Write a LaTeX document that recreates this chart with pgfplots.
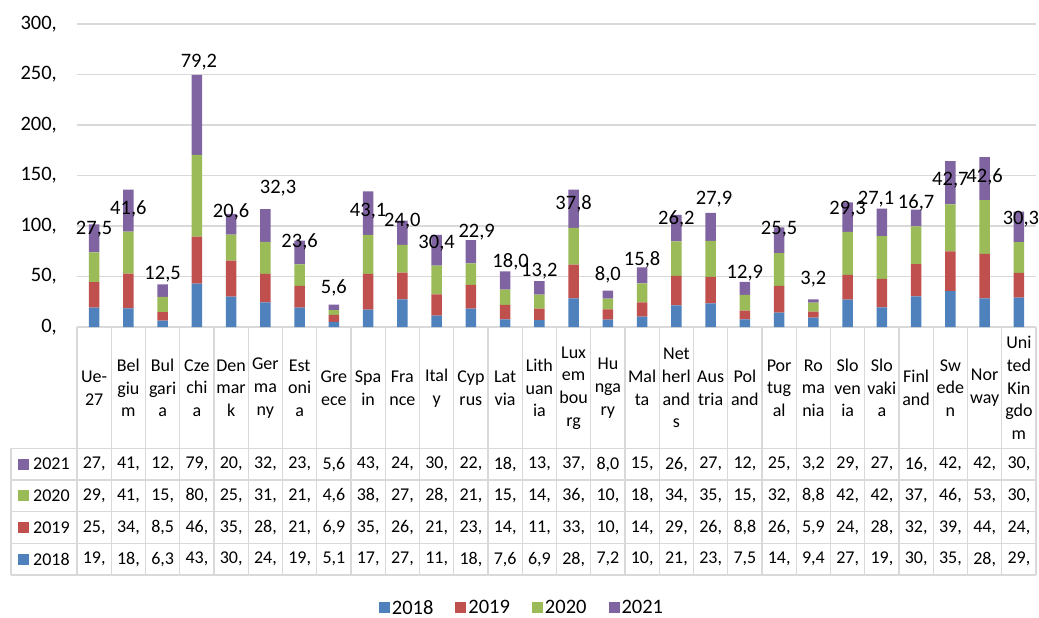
\documentclass[border=0pt]{standalone}
\usepackage{fontspec}
\setmainfont{Carlito}
\usepackage{pgfplots}
\usepackage{pgfplotstable}
\pgfplotsset{compat=1.18}
\pgfkeys{/pgf/number format/assume math mode=true}

\definecolor{c18}{HTML}{4F81BD}
\definecolor{c19}{HTML}{C0504D}
\definecolor{c20}{HTML}{9BBB59}
\definecolor{c21}{HTML}{8064A2}
\definecolor{gridc}{HTML}{D9D9D9}

% values per year; lx/ly = where the 2021 label sits
\pgfplotstableread{
x  y18  y19  y20  y21  lx    ly
0  19.3 25.1 29.6 27.5 0     96.7
1  18.4 34.4 41.7 41.6 1     116.8
2  6.3  8.5  15.0 12.5 2     52.5
3  43.0 46.6 80.8 79.2 3.06  262.7
4  30.0 35.7 25.7 20.6 4     113.9
5  24.5 28.0 31.8 32.3 5.37  137.3
6  19.2 21.5 21.3 23.6 6     84.2
7  5.1  6.9  4.6  5.6  7     38.3
8  17.3 35.3 38.5 43.1 8     115.1
9  27.3 26.5 27.6 24.0 9     104.3
10 11.2 21.0 28.5 30.4 10    82.9
11 18.3 23.3 21.5 22.9 11.17 93.8
12 7.6  14.3 15.2 18.0 12.16 64.1
13 6.9  11.2 14.0 13.2 13    54.8
14 28.3 33.4 36.5 37.8 14    122.1
15 7.2  10.3 10.5 8.0  15    51.5
16 10.2 14.2 18.8 15.8 16    67.0
17 21.3 29.2 34.3 26.2 17    106.9
18 23.4 26.3 35.5 27.9 18.1  126.7
19 7.5  8.8  15.4 12.9 19    53.8
20 14.3 26.4 32.5 25.5 20    97.0
21 9.4  5.9  8.8  3.2  21    47.2
22 27.2 24.4 42.6 29.3 22    116.8
23 19.5 28.1 42.5 27.1 22.83 127.0
24 30.2 32.0 37.4 16.7 24    123.1
25 35.5 39.5 46.5 42.7 25    145.5
26 28.3 44.0 53.4 42.6 26    148.8
27 29.0 24.5 30.5 30.3 27.06 106.9
}\data

\newcommand{\bigf}{\fontsize{20.5}{24}\selectfont}
\newcommand{\tabf}{\fontsize{18}{22.7}\selectfont}

\begin{document}
\begin{tikzpicture}
\path[use as bounding box] (-77pt,-291pt) rectangle (962pt,327pt);

\begin{axis}[
    scale only axis,
    width=959pt, height=303pt,
    at={(0pt,0pt)}, anchor=south west,
    xmin=-0.5, xmax=27.5,
    ymin=0, ymax=300,
    ybar stacked,
    bar width=10.5pt,
    axis line style={draw=none},
    xtick=\empty,
    ytick={0,50,...,300},
    tick style={draw=none},
    ymajorgrids,
    major grid style={gridc, line width=1.3pt},
    yticklabel={\pgfmathtruncatemacro{\tv}{\tick}\tv,},
    yticklabel style={anchor=east, inner sep=0pt, xshift=-20pt},
    tick label style={font=\bigf},
    clip=false,
    legend columns=4,
    legend image code/.code={\fill[#1,draw=none] (0pt,-5.5pt) rectangle (11pt,5.5pt);},
    legend style={draw=none, fill=none, at={(0.464,-0.927)}, anchor=center,
        font=\bigf, /tikz/every even column/.append style={column sep=20pt}},
]
\addplot[fill=c18, draw=none] table[x=x, y=y18] {\data};
\addplot[fill=c19, draw=none] table[x=x, y=y19] {\data};
\addplot[fill=c20, draw=none] table[x=x, y=y20] {\data};
\addplot[fill=c21, draw=none] table[x=x, y=y21] {\data};
\legend{2018,2019,2020,2021}
\end{axis}

% labels with the 2021 value, unstacked overlay
\begin{axis}[
    scale only axis,
    width=959pt, height=303pt,
    at={(0pt,0pt)}, anchor=south west,
    xmin=-0.5, xmax=27.5,
    ymin=0, ymax=300,
    hide axis, clip=false,
]
\addplot[draw=none, mark=none, point meta=explicit,
    nodes near coords={\pgfmathprintnumber[fixed,fixed zerofill,precision=1,use comma]{\pgfplotspointmeta}},
    every node near coord/.append style={anchor=center, font=\bigf, inner sep=0pt}]
    table[x=lx, y=ly, meta=y21] {\data};
\end{axis}

% data table below the chart
\begin{scope}[gridc, line width=1.1pt]
\foreach \k in {0,...,28} {
    \draw (34.25*\k pt,0pt) -- (34.25*\k pt,-248pt);
}
\foreach \yy in {-121.3,-153,-184.7,-216.3,-248} {
    \draw (-66pt,\yy pt) -- (959pt,\yy pt);
}
\draw (-66pt,-121.3pt) -- (-66pt,-248pt);
\end{scope}

\foreach \n [count=\i from 0] in {{Ue-\\27},{Bel\\giu\\m},{Bul\\gari\\a},{Cze\\chi\\a},
    {Den\\mar\\k},{Ger\\ma\\ny},{Est\\oni\\a},{Gre\\ece},{Spa\\in},{Fra\\nce},{Ital\\y},
    {Cyp\\rus},{Lat\\via},{Lith\\uan\\ia},{Lux\\em\\bou\\rg},{Hu\\nga\\ry},{Mal\\ta},
    {Net\\herl\\and\\s},{Aus\\tria},{Pol\\and},{Por\\tug\\al},{Ro\\ma\\nia},{Slo\\ven\\ia},
    {Slo\\vaki\\a},{Finl\\and},{Sw\\ede\\n},{Nor\\way},{Uni\\ted\\Kin\\gdo\\m}} {
    \pgfmathsetmacro{\cx}{34.25*(\i+0.5)}
    \node[align=center, font=\tabf, inner sep=0pt] at (\cx pt,-61pt) {\n};
}

\foreach \col/\yy/\cc/\lab in {y21/-137.2/c21/2021, y20/-168.8/c20/2020,
                               y19/-200.5/c19/2019, y18/-232.2/c18/2018} {
    \fill[\cc] (-59pt,\yy pt-5.5pt) rectangle (-48pt,\yy pt+5.5pt);
    \node[anchor=west, font=\tabf, inner sep=0pt] at (-44pt,\yy pt) {\lab};
    \foreach \i in {0,...,27} {
        \pgfplotstablegetelem{\i}{\col}\of\data
        \let\v\pgfplotsretval
        \pgfmathtruncatemacro{\issm}{\v<10}
        \ifnum\issm=1
            \def\txt{\pgfmathprintnumber[fixed,fixed zerofill,precision=1,use comma]{\v}}%
        \else
            \pgfmathtruncatemacro{\tv}{\v}%
            \def\txt{\tv,}%
        \fi
        \pgfmathsetmacro{\cx}{34.25*(\i+0.5)}
        \node[font=\tabf, inner sep=0pt] at (\cx pt,\yy pt) {\txt};
    }
}
\end{tikzpicture}
\end{document}
